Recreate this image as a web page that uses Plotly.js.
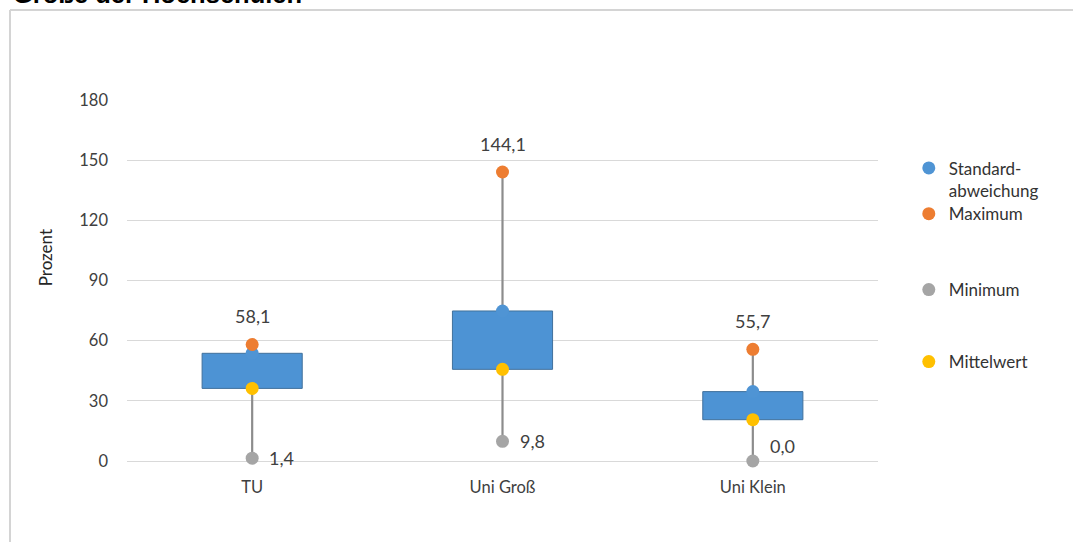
<!DOCTYPE html>
<html>
<head>
<meta charset="utf-8">
<script src="https://cdn.plot.ly/plotly-3.0.1.min.js"></script>
<style>html,body{margin:0;padding:0;background:#fff;}#chart{width:1073px;height:542px;}</style>
</head>
<body>
<div id="chart"></div>
<script>
// ---- data ----
const categories = ["TU", "Uni Groß", "Uni Klein"];
const meanValues = [36.2, 45.7, 20.6];       // Mittelwert
const stdValues  = [17.5, 29.1, 14.0];       // Standardabweichung (box height above mean)
const maxValues  = [58.1, 144.1, 55.7];      // Maximum
const minValues  = [1.4, 9.8, 0.0];          // Minimum
const yTicks = [0, 30, 60, 90, 120, 150, 180];

// ---- styling / placement (not data) ----
const minLabelShiftY = [0, 0, 15];
const FONT = "Lato, 'Open Sans', sans-serif";
const fmt = v => v.toFixed(1).replace('.', ',');
const upper = meanValues.map((m, i) => m + stdValues[i]);

// whisker segments: min -> mean, and mean+std -> max
const wx = [], wy = [];
categories.forEach((c, i) => {
  wx.push(c, c, null, c, c, null);
  wy.push(minValues[i], meanValues[i], null, upper[i], maxValues[i], null);
});

const traces = [
  {type: 'scatter', mode: 'lines', x: wx, y: wy, showlegend: false, hoverinfo: 'skip',
   line: {color: '#8c8c8c', width: 2.2}, cliponaxis: false},
  {type: 'bar', x: categories, y: stdValues, base: meanValues, width: 0.4, showlegend: false,
   marker: {color: '#4d93d4', line: {color: '#41719c', width: 1}}},
  {type: 'scatter', mode: 'markers', name: 'Standard-<br>abweichung', x: categories, y: upper,
   marker: {color: '#4f94d4', size: 13}, cliponaxis: false, legend: 'legend'},
  {type: 'scatter', mode: 'markers', name: 'Maximum', x: categories, y: maxValues,
   marker: {color: '#ed7d31', size: 13}, cliponaxis: false, legend: 'legend2'},
  {type: 'scatter', mode: 'markers', name: 'Minimum', x: categories, y: minValues,
   marker: {color: '#a5a5a5', size: 13}, cliponaxis: false, legend: 'legend3'},
  {type: 'scatter', mode: 'markers', name: 'Mittelwert', x: categories, y: meanValues,
   marker: {color: '#ffc000', size: 13}, cliponaxis: false, legend: 'legend4'}
];

const annotations = [];
categories.forEach((c, i) => {
  annotations.push({x: c, y: maxValues[i], xref: 'x', yref: 'y', text: fmt(maxValues[i]),
    showarrow: false, yshift: 28, font: {family: FONT, size: 18, color: '#404040'}});
  annotations.push({x: c, y: minValues[i], xref: 'x', yref: 'y', text: fmt(minValues[i]),
    showarrow: false, xanchor: 'left', xshift: 15, yshift: minLabelShiftY[i],
    font: {family: FONT, size: 18, color: '#404040'}});
});
// title (partially cut off at top, as in the reference)
annotations.push({xref: 'paper', yref: 'paper', x: -0.1545, y: 1.294, xanchor: 'left', yanchor: 'middle',
  text: '<b>Größe der Hochschulen</b>', showarrow: false,
  font: {family: "'Liberation Sans', Arial, sans-serif", size: 25.5, color: '#000'}});
// y axis title
annotations.push({xref: 'paper', yref: 'paper', x: -0.109, y: 0.562, xanchor: 'center', yanchor: 'middle',
  text: 'Prozent', textangle: -90, showarrow: false,
  font: {family: FONT, size: 17, color: '#262626'}});

const legendBase = {xanchor: 'left', yanchor: 'middle', x: 1.041, bgcolor: 'rgba(0,0,0,0)',
  font: {family: FONT, size: 17, color: '#333333'}, itemwidth: 30, valign: 'top'};

const layout = {
  width: 1073, height: 542,
  margin: {l: 127, r: 195, t: 100, b: 81},
  paper_bgcolor: '#ffffff', plot_bgcolor: '#ffffff',
  showlegend: true,
  legend: Object.assign({}, legendBase, {y: 0.78}),
  legend2: Object.assign({}, legendBase, {y: 0.684}),
  legend3: Object.assign({}, legendBase, {y: 0.4737}),
  legend4: Object.assign({}, legendBase, {y: 0.2742}),
  xaxis: {type: 'category', categoryarray: categories, range: [-0.5, 2.5], showgrid: false,
    showline: false, zeroline: false, ticks: '', ticklabelstandoff: 14,
    tickfont: {family: FONT, size: 16.5, color: '#404040'}},
  yaxis: {range: [0, 180], tickvals: yTicks, ticktext: yTicks.map(String), showgrid: true,
    gridcolor: '#d9d9d9', gridwidth: 1, zeroline: true, zerolinecolor: '#d9d9d9', zerolinewidth: 1,
    showline: false, ticks: '', ticklabelstandoff: 18,
    tickfont: {family: FONT, size: 16.5, color: '#404040'}},
  annotations: annotations,
  shapes: [
    {type: 'line', xref: 'paper', yref: 'paper', x0: -0.1558, x1: 1.26, y0: 1.2493, y1: 1.2493,
     line: {color: '#d4d4d4', width: 2}},
    {type: 'line', xref: 'paper', yref: 'paper', x0: -0.1558, x1: -0.1558, y0: 1.2493, y1: -0.23,
     line: {color: '#d4d4d4', width: 2}}
  ],
  hovermode: false
};

Plotly.newPlot('chart', traces, layout, {displayModeBar: false, staticPlot: true});
</script>
</body>
</html>
